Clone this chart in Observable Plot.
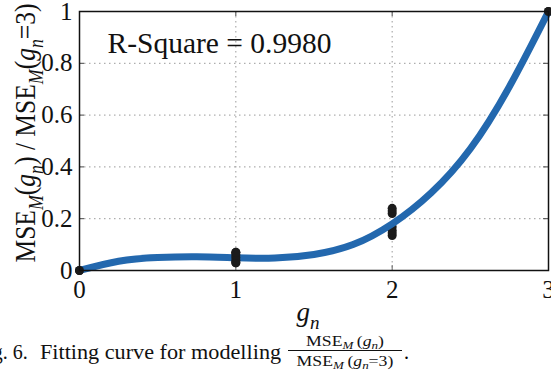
<!DOCTYPE html>
<html>
<head>
<meta charset="utf-8">
<script src="https://cdn.jsdelivr.net/npm/d3@7"></script>
<script src="https://cdn.jsdelivr.net/npm/@observablehq/plot@0.6"></script>
<style>
  html, body { margin: 0; padding: 0; background: #fff; }
  #wrap { position: relative; width: 551px; height: 379px; overflow: hidden; font-family: "Liberation Serif", "Times New Roman", serif; }
  #chart { position: absolute; left: 0; top: 0; }
  #chart svg, #chart svg text, #chart svg tspan { font-family: "Liberation Serif", "Times New Roman", serif !important; }
  #capA { position: absolute; left: -24px; top: 340px; font-size: 20px; line-height: 24px; white-space: nowrap; color: #111; }
  #capB { position: absolute; left: 40px; top: 340px; font-size: 20px; line-height: 24px; white-space: nowrap; color: #111; transform: scaleX(1.11); transform-origin: 0 0; }
  #frac { position: absolute; left: 288px; top: 332px; width: 114px; color: #111; }
  #frac .num, #frac .den { font-size: 15px; text-align: center; white-space: nowrap; }
  #frac .num { border-bottom: 1px solid #111; line-height: 18px; }
  #frac .den { line-height: 20px; }
  #frac .in { display: inline-block; transform: scaleX(1.18); transform-origin: 50% 50%; }
  #frac sub { font-size: 11px; vertical-align: -3px; line-height: 0; }
  #period { position: absolute; left: 404px; top: 340px; font-size: 20px; line-height: 24px; }
</style>
</head>
<body>
<div id="wrap">
  <div id="chart"></div>
  <div id="capA">Fig. 6.</div>
  <div id="capB">Fitting curve for modelling</div>
  <div id="frac">
    <div class="num"><span class="in">MSE<sub><i>M</i></sub>&thinsp;(<i>g</i><sub><i>n</i></sub>)</span></div>
    <div class="den"><span class="in">MSE<sub><i>M</i></sub>&thinsp;(<i>g</i><sub><i>n</i></sub>=3)</span></div>
  </div>
  <div id="period">.</div>
</div>
<script>
// Measured samples
const ptG = [0, 1, 1, 1, 1, 1, 2, 2, 2, 2, 2, 2, 2, 3];
const ptV = [0, 0.03, 0.04, 0.05, 0.06, 0.07, 0.135, 0.145, 0.155, 0.168, 0.22, 0.23, 0.24, 1];

// Fitted curve
const fitG = [0, 0.25, 0.5, 0.75, 1, 1.25, 1.5, 1.75, 2, 2.25, 2.5, 2.75, 3];
const fitV = [0, 0.036, 0.050, 0.053, 0.049, 0.048, 0.062, 0.10, 0.18, 0.30, 0.47, 0.71, 1.0];

const xTicks = [0, 1, 2, 3];
const yTicks = [0, 0.2, 0.4, 0.6, 0.8, 1];
const yTickLabels = ["0", "0.2", "0.4", "0.6", "0.8", "1"];
const rSquare = "R-Square = 0.9980";

const points = ptG.map((g, i) => ({g, v: ptV[i]}));
const fit = fitG.map((g, i) => ({g, v: fitV[i]}));

const SERIF = "Liberation Serif";
const W = 551, H = 336, mL = 79, mR = 3, mT = 11, mB = 66;
const innerH = H - mT - mB;
const tickLen = 5;
const gridStyle = {stroke: "#9a9a9a", strokeWidth: 1, strokeDasharray: "1.5,3.5"};

const plot = Plot.plot({
  width: W,
  height: H,
  marginLeft: mL,
  marginRight: mR,
  marginTop: mT,
  marginBottom: mB,
  style: {fontFamily: SERIF, color: "#111", background: "white", overflow: "visible"},
  x: {domain: [0, 3]},
  y: {domain: [0, 1]},
  marks: [
    Plot.ruleX([1, 2], gridStyle),
    Plot.ruleY([0.2, 0.4, 0.6, 0.8], gridStyle),
    // inner ticks
    Plot.tickX([1, 2], {x: d => d, insetTop: innerH - tickLen, stroke: "#666"}),
    Plot.tickX([1, 2], {x: d => d, insetBottom: innerH - tickLen, stroke: "#444"}),
    Plot.tickY([0.2, 0.4, 0.6, 0.8], {y: d => d, insetLeft: W - mL - mR - tickLen, stroke: "#444"}),
    Plot.tickY([0.2, 0.4, 0.6, 0.8], {y: d => d, insetRight: W - mL - mR - tickLen, stroke: "#444"}),
    Plot.axisX(xTicks, {anchor: "bottom", tickSize: 0, tickPadding: 10, fontSize: 25, fontFamily: SERIF, label: null, tickFormat: d => String(d)}),
    Plot.axisY(yTicks, {anchor: "left", tickSize: 0, tickPadding: 7, fontSize: 25, fontFamily: SERIF, label: null, tickFormat: (d, i) => yTickLabels[i]}),
    Plot.dot(points, {x: "g", y: "v", r: 4.5, fill: "#1b1b1b", stroke: "none"}),
    Plot.line(fit, {x: "g", y: "v", curve: "natural", stroke: "#2368ae", strokeWidth: 7, strokeLinecap: "butt"}),
    Plot.dot(points.filter(d => d.g === 1 || d.g === 0 || d.g === 3), {x: "g", y: "v", r: 4.5, fill: "#1b1b1b", stroke: "none"}),
    Plot.text([rSquare], {frameAnchor: "top-left", dx: 28, dy: 21, fontSize: 29.5, fontFamily: SERIF, textAnchor: "start", lineAnchor: "top", fill: "#111"}),
    Plot.frame({stroke: "#111", strokeWidth: 1.5})
  ]
});
document.getElementById("chart").appendChild(plot);

const svg = d3.select(plot);
svg.attr("font-family", SERIF);
svg.selectAll("text").attr("font-family", SERIF);

// Axis titles with subscripts
const yl = svg.append("text")
  .attr("transform", "translate(35,133) rotate(-90)")
  .attr("text-anchor", "middle")
  .attr("font-family", SERIF)
  .attr("font-size", 30)
  .attr("fill", "#111")
  .attr("textLength", 259)
  .attr("lengthAdjust", "spacingAndGlyphs");
const parts = [
  ["MSE", 0, false, 30], ["M", 8, true, 21], ["(", -8, false, 30], ["g", 0, true, 30], ["n", 8, true, 21],
  [") / MSE", -8, false, 30], ["M", 8, true, 21], ["(", -8, false, 30], ["g", 0, true, 30], ["n", 8, true, 21],
  ["=3)", -8, false, 30]
];
parts.forEach(([t, dy, it, fs]) => {
  yl.append("tspan").attr("dy", dy).attr("font-style", it ? "italic" : "normal").attr("font-size", fs).attr("font-family", SERIF).text(t);
});

const xl = svg.append("text")
  .attr("x", 308).attr("y", 321)
  .attr("font-family", SERIF)
  .attr("font-size", 27).attr("fill", "#111");
xl.append("tspan").attr("font-style", "italic").text("g");
xl.append("tspan").attr("font-style", "italic").attr("font-size", 19).attr("dy", 8).text("n");
</script>
</body>
</html>
